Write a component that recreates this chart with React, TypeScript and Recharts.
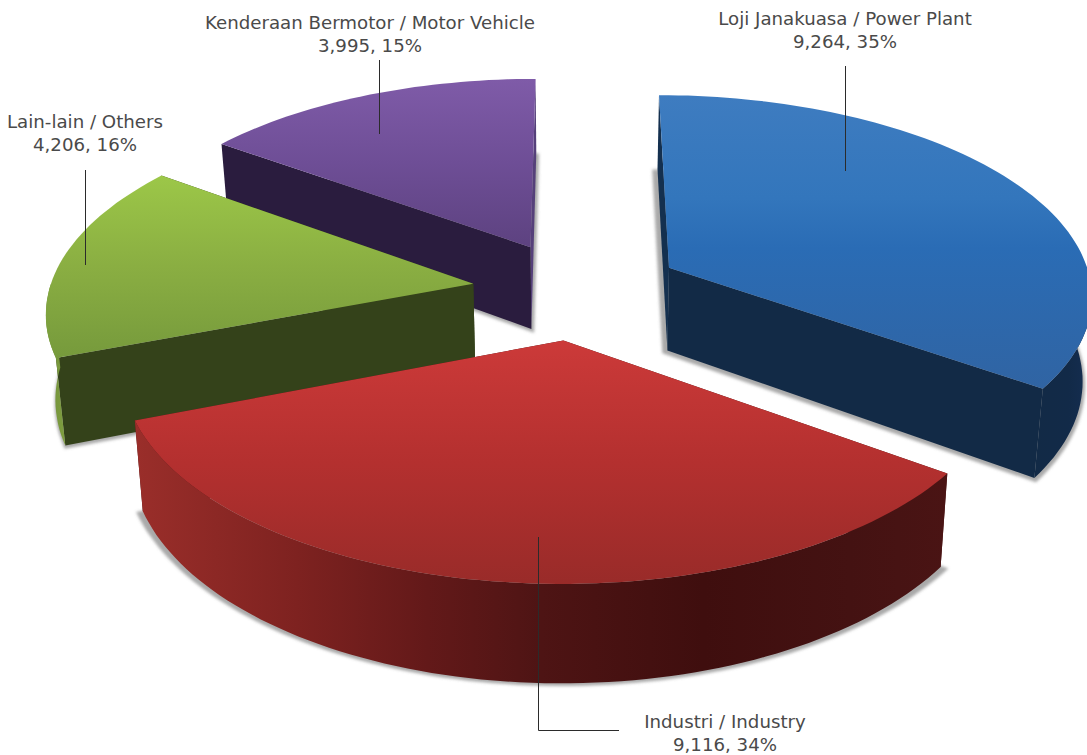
import React from 'react';
import { PieChart, Pie } from 'recharts';

// draw order is back to front, so the list runs anticlockwise from the top
const categories = [
  'Kenderaan Bermotor / Motor Vehicle',
  'Lain-lain / Others',
  'Industri / Industry',
  'Loji Janakuasa / Power Plant',
];
const values = [3995, 4206, 9116, 9264];

const chartData = categories.map((name, i) => ({ name, value: values[i] }));

const WIDTH = 1087;
const HEIGHT = 755;
const CX = 577;
const CY = 290;
const RADIUS = 424;
const EXPLODE = 105;
const TILT = 0.47;
const FOCAL = 3400;
const THICKNESS = 84;
const FLOOR_SCALE = 0.982;
const RAD = Math.PI / 180;

type Stop = [number, string];

const topStops: Stop[][] = [
  [[0, '#7f5ba8'], [0.5, '#6e4e96'], [1, '#5d4280']],
  [[0, '#9cc748'], [0.5, '#8aae42'], [1, '#769a3c']],
  [[0, '#cc3a39'], [0.5, '#b4302f'], [1, '#992b29']],
  [[0, '#3e7cc0'], [0.35, '#3376bc'], [0.52, '#2a6cb5'], [0.75, '#2d68ac'], [1, '#3064a3']],
];
const startWall = ['#55407a', '#34421a', '#4a1414', '#122a46'];
const endWall = ['#2a1c3e', '#34421a', '#4a1414', '#14304f'];
const arcStops: Stop[][] = [
  [[0, '#2a1c3e'], [1, '#5a4080']],
  [[0, '#6f8f38'], [1, '#7f9e40']],
  [[0, '#9a2e2a'], [0.2, '#7e2220'], [0.36, '#631919'], [0.5, '#4e1414'], [0.7, '#3f0e0e'], [0.88, '#441212'], [1, '#4a1414']],
  [[0, '#122a46'], [0.6, '#122a48'], [1, '#152e52']],
];

const LABELS: Record<string, { x: number; y: number; lead: string }> = {
  [categories[0]]: { x: 370, y: 29, lead: 'M379.5 60V134' },
  [categories[1]]: { x: 85, y: 128, lead: 'M85.5 170V265' },
  [categories[2]]: { x: 725, y: 728, lead: 'M538.5 537V730.5H619' },
  [categories[3]]: { x: 845, y: 25, lead: 'M845.5 66V171' },
};

// flat disc point -> screen, with a bit of perspective
const project = (cx: number, cy: number, X: number, Z: number) => {
  const s = 1 / (1 - Z / FOCAL);
  return { x: cx + X * s, y: cy + Z * TILT * s, s };
};

const toFloor = (cx: number, p: { x: number; y: number; s: number }) => ({
  x: cx + (p.x - cx) * FLOOR_SCALE,
  y: p.y + THICKNESS * p.s,
  s: p.s,
});

const toPath = (pts: { x: number; y: number }[]) =>
  pts.map((p, i) => `${i ? 'L' : 'M'}${p.x.toFixed(1)} ${p.y.toFixed(1)}`).join('') + 'Z';

const Gradient = ({ id, stops, vertical }: { id: string; stops: Stop[]; vertical: boolean }) => (
  <linearGradient id={id} x1="0" y1="0" x2={vertical ? 0 : 1} y2={vertical ? 1 : 0}>
    {stops.map(([o, c]) => (
      <stop key={o} offset={o} stopColor={c} />
    ))}
  </linearGradient>
);

const Slice3D = (props: any) => {
  const { cx, cy, outerRadius, startAngle, endAngle, midAngle, index } = props;
  const offX = Math.cos(midAngle * RAD) * EXPLODE;
  const offZ = -Math.sin(midAngle * RAD) * EXPLODE;

  const apex = project(cx, cy, offX, offZ);
  const arc = [];
  const front = [];
  const steps = Math.ceil(Math.abs(endAngle - startAngle) / 1.5);
  for (let k = 0; k <= steps; k++) {
    const a = (startAngle + ((endAngle - startAngle) * k) / steps) * RAD;
    const p = project(cx, cy, offX + Math.cos(a) * outerRadius, offZ - Math.sin(a) * outerRadius);
    arc.push(p);
    // only the part of the rim turned towards the viewer gets a wall
    if (Math.sin(a) < 0.02) front.push(p);
  }
  const apexFloor = toFloor(cx, apex);
  const arcFloor = arc.map((p) => toFloor(cx, p));
  const frontFloor = front.map((p) => toFloor(cx, p));

  const floor = [apexFloor, ...arcFloor];
  const mx = floor.reduce((t, p) => t + p.x, 0) / floor.length;
  const my = floor.reduce((t, p) => t + p.y, 0) / floor.length;
  const shadow = floor.map((p) => ({
    x: mx + (p.x - mx) * 1.018,
    y: my + (p.y - my) * 1.012 + 2,
  }));

  const first = arc[0];
  const last = arc[arc.length - 1];

  return (
    <g>
      <defs>
        <Gradient id={`top-${index}`} stops={topStops[index]} vertical />
        <Gradient id={`arc-${index}`} stops={arcStops[index]} vertical={false} />
        <filter id={`blur-${index}`} x="-5%" y="-5%" width="110%" height="110%">
          <feGaussianBlur stdDeviation="1.8" />
        </filter>
      </defs>
      <path d={toPath(shadow)} fill="#6f6f6f" fillOpacity={0.6} filter={`url(#blur-${index})`} />
      <path d={toPath([apex, first, arcFloor[0], apexFloor])} fill={startWall[index]} />
      <path
        d={toPath([apex, last, arcFloor[arcFloor.length - 1], apexFloor])}
        fill={endWall[index]}
      />
      {front.length > 1 && (
        <path d={toPath([...front, ...[...frontFloor].reverse()])} fill={`url(#arc-${index})`} />
      )}
      <path d={toPath([apex, ...arc])} fill={`url(#top-${index})`} />
    </g>
  );
};

const SliceLabel = (props: any) => {
  const { name, value, percent } = props;
  const pos = LABELS[name];
  return (
    <g>
      <path d={pos.lead} fill="none" stroke="#2b2b2b" strokeWidth={1} />
      <text
        x={pos.x}
        y={pos.y}
        textAnchor="middle"
        fontFamily="'DejaVu Sans', sans-serif"
        fontSize={18.2}
        fill="#4a4a4a"
      >
        <tspan x={pos.x}>{name}</tspan>
        <tspan x={pos.x} dy={23}>
          {`${value.toLocaleString('en-US')}, ${Math.round(percent * 100)}%`}
        </tspan>
      </text>
    </g>
  );
};

export default function App() {
  return (
    <div style={{ position: 'absolute', left: 0, top: 0, width: WIDTH, height: HEIGHT }}>
      <PieChart width={WIDTH} height={HEIGHT} margin={{ top: 0, right: 0, bottom: 0, left: 0 }}>
        <Pie
          data={chartData}
          dataKey="value"
          nameKey="name"
          cx={CX}
          cy={CY}
          innerRadius={0}
          outerRadius={RADIUS}
          startAngle={90}
          endAngle={450}
          stroke="none"
          shape={(p: any) => <Slice3D {...p} />}
          label={(p: any) => <SliceLabel {...p} />}
          labelLine={false}
          isAnimationActive={false}
        />
      </PieChart>
    </div>
  );
}
